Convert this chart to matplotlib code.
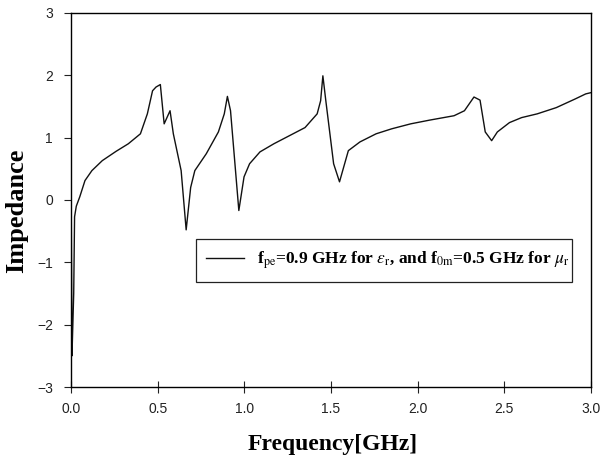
import numpy as np
import matplotlib
matplotlib.use("Agg")
import matplotlib.pyplot as plt

plt.rcParams['mathtext.fontset'] = 'stix'

# frequency [GHz] and impedance
freq = [0.0, 0.005, 0.01, 0.015, 0.02, 0.03, 0.05, 0.08, 0.12, 0.18, 0.26, 0.33,
        0.40, 0.44, 0.47, 0.49, 0.515, 0.537, 0.571, 0.59, 0.635, 0.664, 0.69,
        0.714, 0.78, 0.85, 0.884, 0.902, 0.92, 0.968, 0.998, 1.03, 1.09, 1.17,
        1.26, 1.35, 1.42, 1.44, 1.453, 1.47, 1.515, 1.549, 1.60, 1.667, 1.76,
        1.85, 1.96, 2.07, 2.21, 2.27, 2.30, 2.325, 2.36, 2.39, 2.427, 2.46,
        2.53, 2.60, 2.69, 2.80, 2.91, 2.97, 3.0]
imped = [0.3, -2.5, -2.0, -1.5, -0.27, -0.1, 0.05, 0.31, 0.47, 0.63, 0.78, 0.9,
         1.06, 1.38, 1.75, 1.81, 1.85, 1.22, 1.43, 1.06, 0.47, -0.48, 0.2,
         0.47, 0.74, 1.09, 1.38, 1.66, 1.43, -0.17, 0.37, 0.58, 0.77, 0.9,
         1.03, 1.16, 1.38, 1.59, 1.99, 1.59, 0.58, 0.29, 0.79, 0.93, 1.06,
         1.14, 1.22, 1.28, 1.35, 1.43, 1.55, 1.65, 1.6, 1.09, 0.95, 1.09,
         1.24, 1.32, 1.38, 1.48, 1.62, 1.7, 1.72]

xticks = [0, 0.5, 1.0, 1.5, 2.0, 2.5, 3.0]
xticklabels = ['0.0', '0.5', '1.0', '1.5', '2.0', '2.5', '3.0']
yticks = [-3, -2, -1, 0, 1, 2, 3]

label = (r'f$_{\mathrm{pe}}$=0.9 GHz for $\varepsilon_{\mathrm{r}}$, and '
         r'f$_{\mathrm{0m}}$=0.5 GHz for $\mu_{\mathrm{r}}$')

fig = plt.figure(figsize=(6.13, 4.58), dpi=100)
ax = fig.add_axes([0.116, 0.155, 0.848, 0.817])
ax.plot(freq, imped, color='#111111', lw=1.0, label=label)

ax.set_xlim(0, 3)
ax.set_ylim(-3, 3)
ax.set_xticks(xticks)
ax.set_xticklabels(xticklabels)
ax.set_yticks(yticks)
ax.tick_params(labelsize=10, width=0.8, colors='#222222')
ax.tick_params(axis='x', direction='inout', length=8, pad=7)
ax.tick_params(axis='y', direction='out', length=5, pad=8)
for t in ax.get_xticklabels() + ax.get_yticklabels():
    t.set_family('Liberation Sans')
for s in ax.spines.values():
    s.set_linewidth(1.0)

ax.set_xlabel('Frequency[GHz]', family='Liberation Serif', fontweight='bold',
              fontsize=17)
ax.set_ylabel('Impedance', family='Liberation Serif', fontweight='bold',
              fontsize=19)
ax.xaxis.set_label_coords(0.503, -0.125)
ax.yaxis.set_label_coords(-0.083, 0.47)

leg = ax.legend(loc='lower left', bbox_to_anchor=(0.240, 0.281, 0.723, 0.125),
                mode='expand', fancybox=False, framealpha=1, edgecolor='#222222',
                handlelength=2.2, handletextpad=0.7, borderaxespad=0,
                borderpad=0.6,
                prop={'family': 'Liberation Serif', 'weight': 'bold', 'size': 12.5})
leg.get_frame().set_linewidth(0.9)

fig.savefig('out.png', dpi=100)
